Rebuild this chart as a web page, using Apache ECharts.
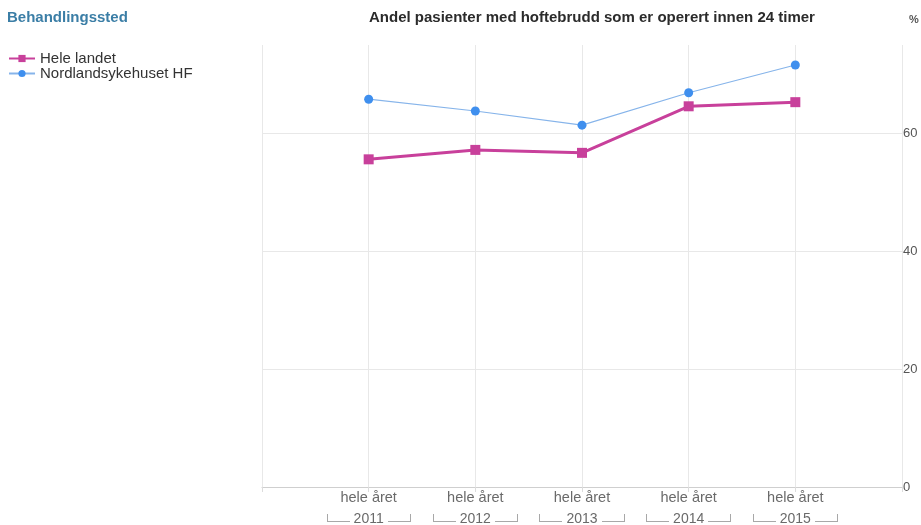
<!DOCTYPE html>
<html>
<head>
<meta charset="utf-8">
<script src="https://cdn.jsdelivr.net/npm/echarts@6/dist/echarts.min.js"></script>
<style>
  html, body { margin: 0; padding: 0; background: #fff; }
  #chart { width: 921px; height: 525px; }
</style>
</head>
<body>
<div id="chart"></div>
<script>
// Share of hip-fracture patients operated within 24 hours
const years = ['2011', '2012', '2013', '2014', '2015'];
const periodLabel = 'hele året';
const heleLandet = [55.6, 57.2, 56.7, 64.6, 65.3];
const nordland = [65.8, 63.8, 61.4, 66.9, 71.6];
const yTicks = [0, 20, 40, 60];

const FONT = '"Liberation Sans", Arial, sans-serif';
const PINK = '#c8409b';
const BLUE = '#3f8fee';
const BRACKET = '#a8a8a8';

// small canvases used as backgrounds for the year bracket pieces
function bracketPiece(w, h, fill) {
  const c = document.createElement('canvas');
  c.width = w; c.height = h;
  const ctx = c.getContext('2d');
  ctx.fillStyle = BRACKET;
  fill(ctx);
  return c;
}
// horizontal run: one line along the bottom row
const runImg = bracketPiece(22, 6, ctx => ctx.fillRect(0, 5, 22, 1));
// end tick: a short upright stroke ending at the same bottom row
const tickImg = bracketPiece(1, 14, ctx => ctx.fillRect(0, 2, 1, 8));

// years sit at positions 1..N on a value axis that has half-empty bands at both ends
const toPoints = arr => arr.map((v, i) => [i + 1, v]);

const chart = echarts.init(document.getElementById('chart'));
chart.setOption({
  animation: false,
  backgroundColor: '#fff',
  textStyle: { fontFamily: FONT },
  title: [
    {
      text: 'Behandlingssted',
      left: 7, top: 10, padding: 0,
      textStyle: { fontFamily: FONT, fontSize: 15, fontWeight: 'bold', color: '#3b7ea6' }
    },
    {
      text: 'Andel pasienter med hoftebrudd som er operert innen 24 timer',
      left: 369, top: 10, padding: 0,
      textStyle: { fontFamily: FONT, fontSize: 15, fontWeight: 'bold', color: '#2b2b2b' }
    },
    {
      text: '%',
      left: 909, top: 14, padding: 0,
      textStyle: { fontFamily: FONT, fontSize: 11, fontWeight: 'bold', color: '#555' }
    }
  ],
  legend: {
    orient: 'vertical',
    left: 3, top: 46,
    itemWidth: 26, itemHeight: 9,
    itemGap: 0,
    textStyle: { fontFamily: FONT, fontSize: 15, color: '#333', lineHeight: 14 },
    data: ['Hele landet', 'Nordlandsykehuset HF']
  },
  grid: { left: 262, right: 19, top: 45, bottom: 38, containLabel: false, outerBoundsMode: 'none' },
  xAxis: {
    type: 'value',
    min: 0, max: years.length + 1, interval: 1,
    axisLine: { show: true, lineStyle: { color: '#cfcfcf', width: 1 } },
    axisTick: { show: true, length: 5, lineStyle: { color: '#dcdcdc' } },
    splitLine: { show: true, lineStyle: { color: '#e8e8e8', width: 1 } },
    axisLabel: {
      margin: 2,
      formatter: v => {
        const y = years[v - 1];
        if (!y) return '';
        return periodLabel + '\n{t|}{l|}{y|' + y + '}{l|}{t|}';
      },
      fontFamily: FONT, fontSize: 14.5, color: '#6a6a6a', lineHeight: 18,
      rich: {
        y: { fontFamily: FONT, fontSize: 14, color: '#6a6a6a', padding: [0, 4, 0, 4], lineHeight: 24 },
        l: { width: 22, height: 6, backgroundColor: { image: runImg }, verticalAlign: 'middle' },
        t: { width: 1, height: 14, backgroundColor: { image: tickImg }, verticalAlign: 'middle' }
      }
    }
  },
  yAxis: {
    type: 'value',
    position: 'right',
    min: 0, max: 75, interval: 20,
    axisLine: { show: false },
    axisTick: { show: false },
    splitLine: { show: true, lineStyle: { color: ['#e8e8e8', '#e8e8e8', '#e8e8e8', '#e8e8e8', 'rgba(0,0,0,0)'] } },
    axisLabel: {
      margin: 1,
      fontFamily: FONT, fontSize: 13, color: '#555',
      formatter: v => (yTicks.indexOf(v) >= 0 ? String(v) : '')
    }
  },
  series: [
    {
      name: 'Hele landet',
      type: 'line',
      data: toPoints(heleLandet),
      symbol: 'rect',
      symbolSize: 10,
      lineStyle: { color: PINK, width: 3 },
      itemStyle: { color: PINK },
      z: 3
    },
    {
      name: 'Nordlandsykehuset HF',
      type: 'line',
      data: toPoints(nordland),
      symbol: 'circle',
      symbolSize: 9,
      lineStyle: { color: '#86b4ea', width: 1.2 },
      itemStyle: { color: BLUE },
      z: 2
    }
  ]
});
</script>
</body>
</html>
